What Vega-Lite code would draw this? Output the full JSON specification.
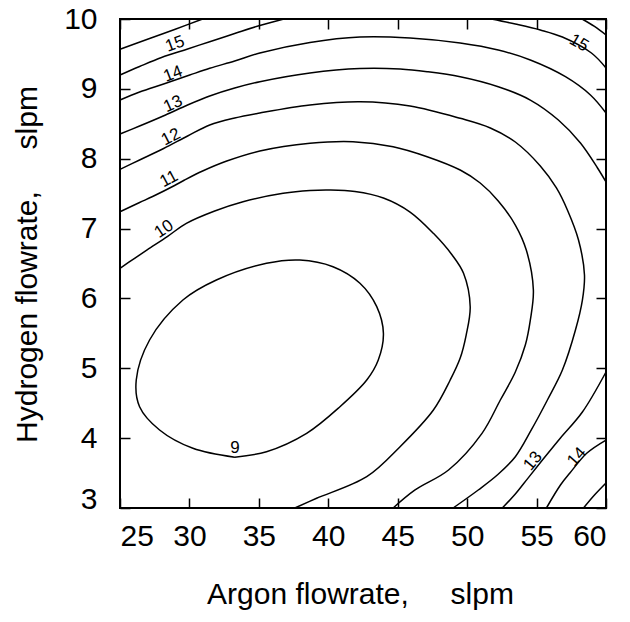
{
  "$schema": "https://vega.github.io/schema/vega-lite/v6.json",
  "width": 486,
  "height": 489,
  "autosize": "none",
  "padding": {"left": 120, "top": 19, "right": 24, "bottom": 114},
  "background": "white",
  "config": {
    "view": {"stroke": "black", "strokeWidth": 2},
    "font": "Liberation Sans",
    "axis": {
      "grid": false,
      "domain": false,
      "tickSize": 10,
      "tickColor": "black",
      "tickWidth": 1.5,
      "labelColor": "black",
      "labelFontSize": 30,
      "labelFont": "Liberation Sans",
      "titleFont": "Liberation Sans",
      "titleFontSize": 30,
      "titleFontWeight": "normal",
      "titleColor": "black"
    }
  },
  "datasets": {
    "lines": [
      {"s": "c16a", "i": 0, "x": 25, "y": 9.566},
      {"s": "c16a", "i": 1, "x": 27.13, "y": 9.721},
      {"s": "c16a", "i": 2, "x": 28.93, "y": 9.85},
      {"s": "c16a", "i": 3, "x": 30.95, "y": 10},
      {"s": "c16b", "i": 0, "x": 58.28, "y": 10},
      {"s": "c16b", "i": 1, "x": 59.17, "y": 9.893},
      {"s": "c16b", "i": 2, "x": 60, "y": 9.771},
      {"s": "c15a", "i": 0, "x": 25, "y": 9.198},
      {"s": "c15a", "i": 1, "x": 26.41, "y": 9.32},
      {"s": "c15a", "i": 2, "x": 27.99, "y": 9.449},
      {"s": "c15a", "i": 3, "x": 29.87, "y": 9.571},
      {"s": "c15a", "i": 4, "x": 31.46, "y": 9.675},
      {"s": "c15a", "i": 5, "x": 33.26, "y": 9.792},
      {"s": "c15a", "i": 6, "x": 35.07, "y": 9.907},
      {"s": "c15a", "i": 7, "x": 36.8, "y": 10},
      {"s": "c15b", "i": 0, "x": 51.74, "y": 10},
      {"s": "c15b", "i": 1, "x": 53.47, "y": 9.928},
      {"s": "c15b", "i": 2, "x": 55.27, "y": 9.843},
      {"s": "c15b", "i": 3, "x": 56.86, "y": 9.742},
      {"s": "c15b", "i": 4, "x": 58.95, "y": 9.513},
      {"s": "c15b", "i": 5, "x": 60, "y": 9.299},
      {"s": "c15c", "i": 0, "x": 60, "y": 3.358},
      {"s": "c15c", "i": 1, "x": 59.17, "y": 3.186},
      {"s": "c15c", "i": 2, "x": 58.38, "y": 3.0},
      {"s": "c14a", "i": 0, "x": 25, "y": 8.84},
      {"s": "c14a", "i": 1, "x": 26.41, "y": 8.955},
      {"s": "c14a", "i": 2, "x": 28.14, "y": 9.07},
      {"s": "c14a", "i": 3, "x": 30.02, "y": 9.198},
      {"s": "c14a", "i": 4, "x": 31.46, "y": 9.294},
      {"s": "c14a", "i": 5, "x": 33.26, "y": 9.399},
      {"s": "c14a", "i": 6, "x": 35.07, "y": 9.513},
      {"s": "c14a", "i": 7, "x": 38.68, "y": 9.664},
      {"s": "c14a", "i": 8, "x": 42.28, "y": 9.742},
      {"s": "c14a", "i": 9, "x": 45.89, "y": 9.728},
      {"s": "c14a", "i": 10, "x": 49.5, "y": 9.656},
      {"s": "c14a", "i": 11, "x": 52.24, "y": 9.556},
      {"s": "c14a", "i": 12, "x": 54.55, "y": 9.413},
      {"s": "c14a", "i": 13, "x": 57.08, "y": 9.174},
      {"s": "c14a", "i": 14, "x": 58.88, "y": 8.912},
      {"s": "c14a", "i": 15, "x": 60, "y": 8.654},
      {"s": "c14b", "i": 0, "x": 60, "y": 3.973},
      {"s": "c14b", "i": 1, "x": 58.63, "y": 3.787},
      {"s": "c14b", "i": 2, "x": 57.4, "y": 3.501},
      {"s": "c14b", "i": 3, "x": 56.72, "y": 3.329},
      {"s": "c14b", "i": 4, "x": 55.71, "y": 3.0},
      {"s": "c13a", "i": 0, "x": 25, "y": 8.354},
      {"s": "c13a", "i": 1, "x": 26.41, "y": 8.468},
      {"s": "c13a", "i": 2, "x": 28.28, "y": 8.626},
      {"s": "c13a", "i": 3, "x": 29.87, "y": 8.769},
      {"s": "c13a", "i": 4, "x": 31.46, "y": 8.898},
      {"s": "c13a", "i": 5, "x": 33.26, "y": 9.012},
      {"s": "c13a", "i": 6, "x": 35.07, "y": 9.102},
      {"s": "c13a", "i": 7, "x": 38.68, "y": 9.227},
      {"s": "c13a", "i": 8, "x": 42.28, "y": 9.291},
      {"s": "c13a", "i": 9, "x": 45.17, "y": 9.284},
      {"s": "c13a", "i": 10, "x": 47.12, "y": 9.246},
      {"s": "c13a", "i": 11, "x": 49.5, "y": 9.174},
      {"s": "c13a", "i": 12, "x": 52.24, "y": 9.031},
      {"s": "c13a", "i": 13, "x": 54.55, "y": 8.84},
      {"s": "c13a", "i": 14, "x": 56.57, "y": 8.554},
      {"s": "c13a", "i": 15, "x": 58.16, "y": 8.225},
      {"s": "c13a", "i": 16, "x": 59.39, "y": 7.867},
      {"s": "c13a", "i": 17, "x": 60, "y": 7.667},
      {"s": "c13b", "i": 0, "x": 60, "y": 4.947},
      {"s": "c13b", "i": 1, "x": 58.3, "y": 4.374},
      {"s": "c13b", "i": 2, "x": 56.72, "y": 4.002},
      {"s": "c13b", "i": 3, "x": 55.45, "y": 3.693},
      {"s": "c13b", "i": 4, "x": 54.37, "y": 3.424},
      {"s": "c13b", "i": 5, "x": 53.47, "y": 3.2},
      {"s": "c13b", "i": 6, "x": 52.53, "y": 3.0},
      {"s": "c12", "i": 0, "x": 25, "y": 7.848},
      {"s": "c12", "i": 1, "x": 26.41, "y": 7.982},
      {"s": "c12", "i": 2, "x": 28.14, "y": 8.146},
      {"s": "c12", "i": 3, "x": 29.87, "y": 8.325},
      {"s": "c12", "i": 4, "x": 31.46, "y": 8.483},
      {"s": "c12", "i": 5, "x": 33.26, "y": 8.583},
      {"s": "c12", "i": 6, "x": 35.07, "y": 8.654},
      {"s": "c12", "i": 7, "x": 38.68, "y": 8.769},
      {"s": "c12", "i": 8, "x": 42.28, "y": 8.816},
      {"s": "c12", "i": 9, "x": 45.89, "y": 8.755},
      {"s": "c12", "i": 10, "x": 49.5, "y": 8.578},
      {"s": "c12", "i": 11, "x": 51.67, "y": 8.44},
      {"s": "c12", "i": 12, "x": 53.47, "y": 8.239},
      {"s": "c12", "i": 13, "x": 55.27, "y": 7.896},
      {"s": "c12", "i": 14, "x": 56.43, "y": 7.581},
      {"s": "c12", "i": 15, "x": 57.22, "y": 7.266},
      {"s": "c12", "i": 16, "x": 58.02, "y": 6.836},
      {"s": "c12", "i": 17, "x": 58.45, "y": 6.335},
      {"s": "c12", "i": 18, "x": 58.3, "y": 5.977},
      {"s": "c12", "i": 19, "x": 57.8, "y": 5.548},
      {"s": "c12", "i": 20, "x": 56.86, "y": 4.975},
      {"s": "c12", "i": 21, "x": 55.78, "y": 4.546},
      {"s": "c12", "i": 22, "x": 54.62, "y": 4.117},
      {"s": "c12", "i": 23, "x": 53.47, "y": 3.734},
      {"s": "c12", "i": 24, "x": 52.17, "y": 3.472},
      {"s": "c12", "i": 25, "x": 50.8, "y": 3.258},
      {"s": "c12", "i": 26, "x": 48.99, "y": 3.0},
      {"s": "c11", "i": 0, "x": 25, "y": 7.241},
      {"s": "c11", "i": 1, "x": 26.41, "y": 7.373},
      {"s": "c11", "i": 2, "x": 27.35, "y": 7.459},
      {"s": "c11", "i": 3, "x": 28.93, "y": 7.617},
      {"s": "c11", "i": 4, "x": 29.65, "y": 7.695},
      {"s": "c11", "i": 5, "x": 30.95, "y": 7.824},
      {"s": "c11", "i": 6, "x": 32.69, "y": 7.967},
      {"s": "c11", "i": 7, "x": 35.07, "y": 8.11},
      {"s": "c11", "i": 8, "x": 38.68, "y": 8.221},
      {"s": "c11", "i": 9, "x": 41.78, "y": 8.244},
      {"s": "c11", "i": 10, "x": 44.67, "y": 8.172},
      {"s": "c11", "i": 11, "x": 47.12, "y": 8.029},
      {"s": "c11", "i": 12, "x": 49.5, "y": 7.838},
      {"s": "c11", "i": 13, "x": 50.94, "y": 7.652},
      {"s": "c11", "i": 14, "x": 52.24, "y": 7.395},
      {"s": "c11", "i": 15, "x": 53.47, "y": 7.051},
      {"s": "c11", "i": 16, "x": 54.26, "y": 6.693},
      {"s": "c11", "i": 17, "x": 54.77, "y": 6.121},
      {"s": "c11", "i": 18, "x": 54.55, "y": 5.691},
      {"s": "c11", "i": 19, "x": 54.19, "y": 5.333},
      {"s": "c11", "i": 20, "x": 53.47, "y": 4.947},
      {"s": "c11", "i": 21, "x": 52.39, "y": 4.546},
      {"s": "c11", "i": 22, "x": 51.07, "y": 4.069},
      {"s": "c11", "i": 23, "x": 48.66, "y": 3.544},
      {"s": "c11", "i": 24, "x": 46.25, "y": 3.258},
      {"s": "c11", "i": 25, "x": 44.67, "y": 3.0},
      {"s": "c10", "i": 0, "x": 25, "y": 6.431},
      {"s": "c10", "i": 1, "x": 26.05, "y": 6.574},
      {"s": "c10", "i": 2, "x": 26.98, "y": 6.698},
      {"s": "c10", "i": 3, "x": 28.43, "y": 6.889},
      {"s": "c10", "i": 4, "x": 29.78, "y": 7.075},
      {"s": "c10", "i": 5, "x": 31.82, "y": 7.252},
      {"s": "c10", "i": 6, "x": 33.86, "y": 7.385},
      {"s": "c10", "i": 7, "x": 36.75, "y": 7.505},
      {"s": "c10", "i": 8, "x": 38.68, "y": 7.545},
      {"s": "c10", "i": 9, "x": 40.12, "y": 7.552},
      {"s": "c10", "i": 10, "x": 41.92, "y": 7.531},
      {"s": "c10", "i": 11, "x": 43.97, "y": 7.438},
      {"s": "c10", "i": 12, "x": 45.89, "y": 7.237},
      {"s": "c10", "i": 13, "x": 47.57, "y": 6.932},
      {"s": "c10", "i": 14, "x": 48.92, "y": 6.622},
      {"s": "c10", "i": 15, "x": 49.74, "y": 6.36},
      {"s": "c10", "i": 16, "x": 50.22, "y": 5.882},
      {"s": "c10", "i": 17, "x": 49.93, "y": 5.476},
      {"s": "c10", "i": 18, "x": 49.5, "y": 5.147},
      {"s": "c10", "i": 19, "x": 48.78, "y": 4.832},
      {"s": "c10", "i": 20, "x": 47.57, "y": 4.403},
      {"s": "c10", "i": 21, "x": 45.17, "y": 3.878},
      {"s": "c10", "i": 22, "x": 42.77, "y": 3.448},
      {"s": "c10", "i": 23, "x": 39.16, "y": 3.139},
      {"s": "c10", "i": 24, "x": 37.59, "y": 3.0},
      {"s": "c9", "i": 0, "x": 33.26, "y": 3.727},
      {"s": "c9", "i": 1, "x": 35.55, "y": 3.806},
      {"s": "c9", "i": 2, "x": 38.44, "y": 4.069},
      {"s": "c9", "i": 3, "x": 40.84, "y": 4.45},
      {"s": "c9", "i": 4, "x": 42.77, "y": 4.832},
      {"s": "c9", "i": 5, "x": 43.6, "y": 5.119},
      {"s": "c9", "i": 6, "x": 43.97, "y": 5.501},
      {"s": "c9", "i": 7, "x": 43.49, "y": 5.882},
      {"s": "c9", "i": 8, "x": 42.28, "y": 6.217},
      {"s": "c9", "i": 9, "x": 40.34, "y": 6.454},
      {"s": "c9", "i": 10, "x": 37.95, "y": 6.55},
      {"s": "c9", "i": 11, "x": 35.55, "y": 6.503},
      {"s": "c9", "i": 12, "x": 31.94, "y": 6.264},
      {"s": "c9", "i": 13, "x": 29.53, "y": 5.977},
      {"s": "c9", "i": 14, "x": 27.13, "y": 5.405},
      {"s": "c9", "i": 15, "x": 26.17, "y": 4.832},
      {"s": "c9", "i": 16, "x": 26.41, "y": 4.45},
      {"s": "c9", "i": 17, "x": 27.85, "y": 4.117},
      {"s": "c9", "i": 18, "x": 30.25, "y": 3.855},
      {"s": "c9", "i": 19, "x": 33.26, "y": 3.727}
    ],
    "labels": [
      {"t": "15", "x": 28.96, "y": 9.642, "a": -20},
      {"t": "14", "x": 28.82, "y": 9.213, "a": -21},
      {"t": "13", "x": 28.82, "y": 8.783, "a": -24},
      {"t": "12", "x": 28.67, "y": 8.311, "a": -27},
      {"t": "11", "x": 28.53, "y": 7.71, "a": -28},
      {"t": "10", "x": 28.17, "y": 6.994, "a": -34},
      {"t": "9", "x": 33.28, "y": 3.859, "a": 0},
      {"t": "15", "x": 58.05, "y": 9.656, "a": 30},
      {"t": "13", "x": 54.74, "y": 3.673, "a": -50},
      {"t": "14", "x": 57.91, "y": 3.73, "a": -48}
    ]
  },
  "layer": [
    {
      "layer": [
        {
          "data": {"name": "lines"},
          "mark": {"type": "line", "color": "black", "strokeWidth": 1.5, "interpolate": "catmull-rom"},
          "encoding": {
            "x": {
              "field": "x", "type": "quantitative",
              "scale": {"domain": [25, 60], "nice": false, "zero": false},
              "axis": {
                "orient": "bottom",
                "values": [25, 30, 35, 40, 45, 50, 55, 60],
                "ticks": false,
                "title": "Argon flowrate,\u00a0\u00a0\u00a0\u00a0\u00a0slpm",
                "labelPadding": 13,
                "titleX": 240,
                "titleY": 95,
                "titleBaseline": "alphabetic"
              }
            },
            "y": {
              "field": "y", "type": "quantitative",
              "scale": {"domain": [3, 10], "nice": false, "zero": false},
              "axis": {
                "orient": "left",
                "values": [3, 4, 5, 6, 7, 8, 9, 10],
                "format": "d",
                "ticks": false,
                "title": "Hydrogen flowrate,\u00a0\u00a0\u00a0\u00a0\u00a0slpm",
                "labelPadding": 23,
                "labelBaseline": {"condition": {"test": "datum.value == 3", "value": "alphabetic"}, "value": "middle"},
                "titleX": -93,
                "titleY": 245,
                "titleBaseline": "middle"
              }
            },
            "detail": {"field": "s"},
            "order": {"field": "i", "type": "quantitative"}
          }
        },
        {
          "data": {"name": "labels"},
          "mark": {"type": "text", "fontSize": 17, "color": "black", "font": "Liberation Sans"},
          "encoding": {
            "x": {"field": "x", "type": "quantitative"},
            "y": {"field": "y", "type": "quantitative"},
            "text": {"field": "t"},
            "angle": {"field": "a", "type": "quantitative", "scale": null}
          }
        }
      ]
    },
    {
      "data": {"name": "labels"},
      "mark": {"type": "point", "opacity": 0},
      "encoding": {
        "x": {
          "field": "x", "type": "quantitative",
          "axis": {"orient": "top", "offset": -489, "values": [25, 30, 35, 40, 45, 50, 55, 60], "labels": false, "title": null}
        },
        "y": {
          "field": "y", "type": "quantitative",
          "axis": {"orient": "right", "offset": -486, "values": [3, 4, 5, 6, 7, 8, 9, 10], "labels": false, "title": null}
        }
      }
    },
    {
      "data": {"name": "labels"},
      "mark": {"type": "point", "opacity": 0},
      "encoding": {
        "x": {
          "field": "x", "type": "quantitative",
          "axis": {"orient": "bottom", "offset": -489, "values": [25, 30, 35, 40, 45, 50, 55, 60], "labels": false, "title": null}
        },
        "y": {
          "field": "y", "type": "quantitative",
          "axis": {"orient": "left", "offset": -486, "values": [3, 4, 5, 6, 7, 8, 9, 10], "labels": false, "title": null}
        }
      }
    }
  ],
  "resolve": {"axis": {"x": "independent", "y": "independent"}}
}
